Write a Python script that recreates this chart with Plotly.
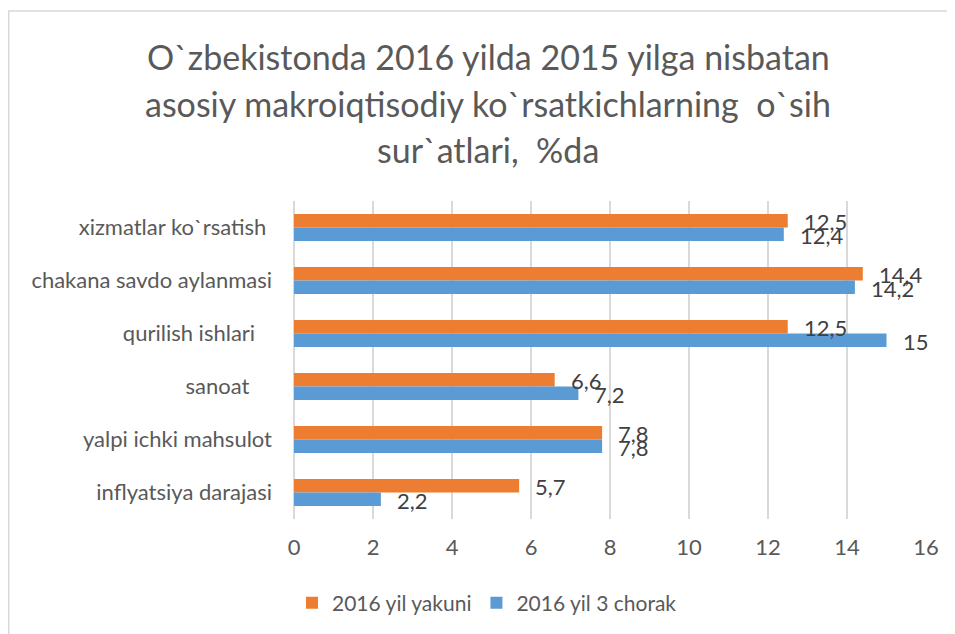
import plotly.graph_objects as go

# ---- data (top-to-bottom category order) ----
categories = [
    "xizmatlar ko`rsatish",
    "chakana savdo aylanmasi",
    "qurilish ishlari",
    "sanoat",
    "yalpi ichki mahsulot",
    "inflyatsiya darajasi",
]
# category tick labels as shown (with the trailing spaces of the original)
tick_labels = [
    "xizmatlar ko`rsatish\u00a0",
    "chakana savdo aylanmasi",
    "qurilish ishlari\u00a0\u00a0\u00a0",
    "sanoat\u00a0\u00a0\u00a0\u00a0",
    "yalpi ichki mahsulot",
    "inflyatsiya darajasi",
]
series_names = ["2016 yil yakuni", "2016 yil 3 chorak"]
yakuni_values = [12.5, 14.4, 12.5, 6.6, 7.8, 5.7]
chorak_values = [12.4, 14.2, 15.0, 7.2, 7.8, 2.2]
x_tick_values = [0, 2, 4, 6, 8, 10, 12, 14, 16]
title_lines = [
    "O`zbekistonda 2016 yilda 2015 yilga nisbatan",
    "asosiy makroiqtisodiy ko`rsatkichlarning  o`sih",
    "sur`atlari,  %da",
]

ORANGE = "#ED7D31"
BLUE = "#5B9BD5"
FONT = "Lato"
OFF = 8  # page body margin offset
W, H = 955 - OFF, 634 - OFF
L, R, T, B = 294 - OFF, 926 - OFF, 201 - OFF, 519 - OFF


def fmt(v):
    return ("%g" % v).replace(".", ",")


def py(pix):
    return (B - (pix - OFF)) / (B - T)


def px(pix):
    return ((pix - OFF) - L) / (R - L)


fig = go.Figure()
fig.add_trace(go.Bar(
    y=categories, x=yakuni_values, name=series_names[0], orientation="h",
    marker=dict(color=ORANGE, line=dict(width=0)),
))
fig.add_trace(go.Bar(
    y=categories, x=chorak_values, name=series_names[1], orientation="h",
    marker=dict(color=BLUE, line=dict(width=0)),
))

annotations = []
for vals, ysh in ((yakuni_values, 6), (chorak_values, -8)):
    for c, v in zip(categories, vals):
        annotations.append(dict(
            x=v, y=c, xref="x", yref="y", text=fmt(v), showarrow=False,
            xanchor="left", yanchor="middle", xshift=14, yshift=ysh,
            font=dict(family=FONT, size=22, color="#404040"),
        ))

for line, ypix in zip(title_lines, [56, 103, 150]):
    annotations.append(dict(
        x=px(488), xref="paper", y=py(ypix), yref="paper", text=line,
        showarrow=False, xanchor="center", yanchor="middle",
        font=dict(family=FONT, size=34, color="#595959"),
    ))

fig.update_layout(
    width=W, height=H,
    margin=dict(l=L, r=W - R, t=T, b=H - B, pad=0),
    paper_bgcolor="white", plot_bgcolor="white",
    barmode="group", bargap=0.49, bargroupgap=0,
    font=dict(family=FONT, size=22, color="#595959"),
    showlegend=True,
    legend=dict(
        orientation="h", xref="container", yref="container",
        x=(487 - OFF) / W, xanchor="center", y=1 - (603 - OFF) / H,
        yanchor="middle",
        font=dict(family=FONT, size=21, color="#595959"),
        traceorder="normal", itemwidth=30,
    ),
    annotations=annotations,
    shapes=[
        dict(type="line", xref="paper", yref="paper",
             x0=px(8.75), x1=px(8.75), y0=py(11), y1=py(700),
             line=dict(color="#D9D9D9", width=1.5)),
        dict(type="line", xref="paper", yref="paper",
             x0=px(8), x1=px(1000), y0=py(11), y1=py(11),
             line=dict(color="#D9D9D9", width=1.5)),
    ],
)
fig.update_xaxes(
    range=[0, 16], tickvals=x_tick_values, showgrid=True,
    gridcolor="#D9D9D9", gridwidth=1.5, zeroline=True,
    zerolinecolor="#D9D9D9", zerolinewidth=1.5, showline=False,
    ticks="", ticklabelstandoff=13,
    tickfont=dict(family=FONT, size=22, color="#595959"),
)
fig.update_yaxes(
    autorange="reversed", showgrid=False, zeroline=False, showline=False,
    ticks="", ticklabelstandoff=21,
    tickmode="array", tickvals=categories, ticktext=tick_labels,
    tickfont=dict(family=FONT, size=22, color="#595959"),
)

fig.write_html("out.html")
